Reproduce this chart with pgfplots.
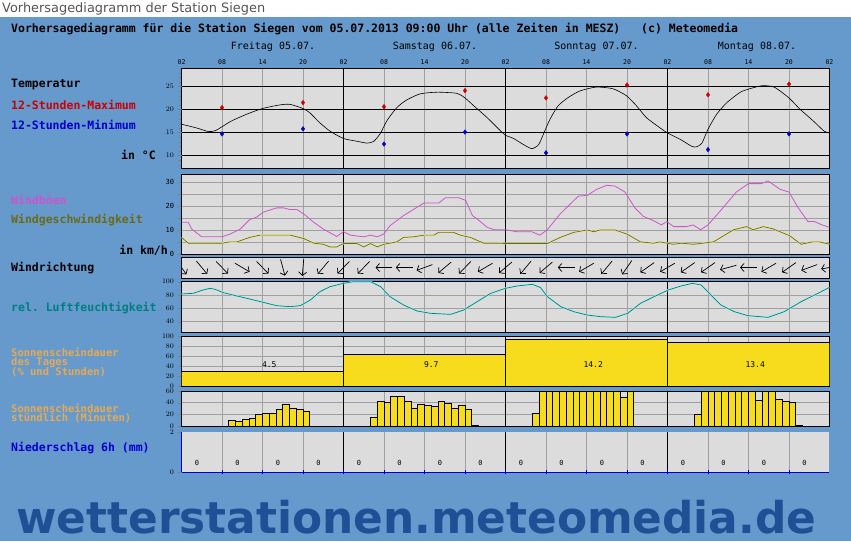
\documentclass[border=0pt]{standalone}
\usepackage{fontspec}
\setmainfont{DejaVu Sans}
\setmonofont{DejaVu Sans Mono}
\usepackage{pgfplots}
\usepackage{pgfplotstable}
\pgfplotsset{compat=1.18}
\usetikzlibrary{arrows.meta}
\definecolor{bgblue}{HTML}{6699CC}
\definecolor{panelgray}{HTML}{DCDCDC}
\definecolor{gridgray}{HTML}{A0A0A0}
\definecolor{tmax}{HTML}{CC0000}
\definecolor{tmin}{HTML}{0000CC}
\definecolor{gust}{HTML}{CC55CC}
\definecolor{windc}{HTML}{6B6B14}
\definecolor{windhalo}{HTML}{E6E6A0}
\definecolor{humid}{HTML}{007F7F}
\definecolor{humidhalo}{HTML}{B4EBEB}
\definecolor{sunlbl}{HTML}{E6AA55}
\definecolor{sunbar}{HTML}{F7DC1E}
\definecolor{wmark}{HTML}{1F5096}
\definecolor{titlegray}{HTML}{555555}

\newcommand{\lbl}{\ttfamily\bfseries\fontsize{11.5}{12}\selectfont}
\newcommand{\slbl}{\ttfamily\bfseries\fontsize{10.5}{11}\selectfont}
\newcommand{\tck}{\ttfamily\fontsize{7}{7}\selectfont}
\newcommand{\hrs}{\ttfamily\fontsize{6.5}{6.5}\selectfont}
\newcommand{\val}{\ttfamily\fontsize{8}{8}\selectfont}

\pgfplotstableread{
h T
0 16.8
2.2 16.0
4 15.2
5 15.4
6 16.25
7.4 17.5
9.7 19.0
12 20.2
14.6 21.0
16.1 21.1
18 20.2
19 19.3
20.5 17.1
22 15.3
24 13.7
26 13.1
27.5 12.7
28.5 13.1
29.5 14.9
30.4 17.5
31.9 20.4
33.4 22.1
35.4 23.4
37.9 23.75
40.8 23.5
42 22.5
43.3 20.8
45.3 18.2
47.3 15.3
48 14.4
49.2 13.7
50.7 12.35
51.9 11.5
52.9 12.35
53.6 14.6
54.6 17.9
55.8 20.8
57.3 22.6
59 24.0
61.4 24.85
63.9 24.5
65.9 23.0
67.4 20.8
68.9 18.2
70.9 16.0
72 14.9
73.9 13.5
75.6 12.0
76.3 11.9
77.1 12.7
78 15.7
79.3 19.0
80.8 21.5
82.8 23.75
84.2 24.5
86 25.15
87.8 24.85
90 22.5
91.6 20.1
93.6 17.5
95.2 15.3
96 14.9
}\temptab

\pgfplotstableread{
h W
0 13.2
1 13.2
1.5 10.4
3 7.15
6 7.15
7.2 8.3
8.7 10.4
10.1 14.3
11.1 15.3
12.1 17.4
14.1 19.2
15.1 19.2
16.1 18.5
17.1 18.5
18.1 16.7
19.6 13.2
21 10.4
23 7.3
24 9.25
25 7.85
27 7.15
28 7.85
29 7.15
29.95 8.3
30.9 11.8
32.9 16.0
35.9 21.2
38.1 21.2
39.1 23.4
41.1 23.4
42.1 22.3
43.1 16.0
43.8 14.6
45.3 11.1
46.3 10.1
48 10.1
49.7 9.25
51.9 9.25
53.1 7.85
54.2 10.1
56.1 16.7
58.8 24.1
60.1 24.4
61.5 26.9
63 28.6
64.2 28.3
65.7 25.8
67.2 19.1
68.4 15.7
69.9 13.9
71.1 12.1
71.9 13.5
72.9 11.4
74.8 11.4
75.8 12.1
76.9 10.1
78 12.1
80 18.5
82.2 25.8
84 29.3
85.9 29.3
86.9 30.4
88.7 26.9
90 25.8
91.3 19.5
92.8 13.5
93.8 13.5
94.8 12.2
96 11.1
}\gusttab

\pgfplotstableread{
h W
0 6.9
1 4.5
6 4.5
7.2 5.05
8.2 5.05
10.1 6.9
11.6 7.85
16.1 7.85
18.1 6.45
19.6 4.5
21 4.05
22 2.95
23 2.95
24 4.35
26 4.35
27 2.95
28 4.35
29 2.95
30 4.05
31.9 5.05
32.9 6.9
34.4 7.15
35.9 7.85
37.4 7.85
38.1 9.0
40.3 9.0
41.3 7.85
42.8 6.9
44.8 4.5
48 4.4
54.2 4.35
56.1 6.9
58.1 9.0
60.1 10.0
61.1 9.25
62 10.0
64.2 10.0
66 8.3
68 5.05
69.9 4.5
70.9 5.05
71.9 4.5
72.9 4.05
74.1 4.5
75.8 4.05
76.8 4.35
78.8 5.05
81.8 10.1
83.7 11.4
84.7 10.1
86.2 11.4
87.7 10.4
90.1 7.6
91.8 4.05
93.5 5.05
94.5 5.05
96 4.05
}\windtab

\pgfplotstableread{
h a
0 -55
3 -50
6 -45
9 -30
12 -45
15 -75
18 -95
21 -130
24 -135
27 -135
30 180
33 180
36 -160
39 -140
42 -135
45 -150
48 -140
51 -130
54 -140
57 180
60 -150
63 -130
66 -125
69 -145
72 -150
75 -145
78 -145
81 -165
84 180
87 -150
90 -145
93 -160
96 -170
}\dirtab

\pgfplotstableread{
h H
0 81.5
1.7 82.5
3.2 87.5
4.2 90
5 88.5
6.2 83.5
8.2 78.5
10.1 74
12.1 69
14.1 64
16.1 62.5
17.6 64
19.1 72.5
20.5 85
22 92.5
24 97.5
25.5 100
28 100
29.5 92.5
30.9 77.5
32.9 65
34.9 56
36.9 52.5
39.9 51
41.8 57.5
43.8 70
45.8 82.5
48 90
49.7 93.5
52 96
53.2 91
54.2 77.5
56.2 62.5
58.1 55
60.1 50
62.1 47.5
64.3 46.5
66.1 52.5
68 67.5
70 77.5
72.1 87.5
74 93.5
75.7 97.5
77 95
78.2 82.5
79.9 65
81.9 55
83.9 49
86.9 46.5
89.3 55
91.8 70
94.3 82.5
96 91.5
}\humtab

\pgfplotsset{
  panel/.style 2 args={
    at={(181.5pt,#1pt)}, anchor=south west, scale only axis,
    width=648pt, height=#2pt,
    xmin=0, xmax=96,
    axis background/.style={fill=panelgray},
    axis line style={black, line width=0.8pt},
    xtick={6,12,18,30,36,42,54,60,66,78,84,90},
    xticklabels={},
    every x tick/.style={draw=none},
    xmajorgrids,
    major grid style={gridgray, line width=0.7pt},
    extra x ticks={24,48,72},
    extra x tick labels={},
    extra x tick style={major grid style={black, line width=0.8pt}},
    ytick align=outside, ytick pos=left,
    major tick length=4pt, minor tick length=3pt,
    yticklabel style={font=\tck},
    xticklabel style={font=\hrs},
  },
}

\begin{document}
\begin{tikzpicture}[x=1pt,y=1pt]
\fill[bgblue] (0,0) rectangle (851,541);
\fill[white] (0,523.7) rectangle (851,541);
\node[anchor=base west, inner sep=0, text=titlegray] at (2,528.3) {\resizebox{263pt}{!}{Vorhersagediagramm der Station Siegen}};
\node[anchor=west, inner sep=0] at (11,511.5) {\lbl Vorhersagediagramm für die Station Siegen vom 05.07.2013 09:00 Uhr (alle Zeiten in MESZ)\ \ \ (c) Meteomedia};

\foreach \xx/\tt in {273/Freitag 05.07., 435/Samstag 06.07., 596.5/Sonntag 07.07., 757/Montag 08.07.}
  \node[inner sep=0] at (\xx,494.5) {\ttfamily\fontsize{10}{10}\selectfont \tt};

% left labels
\node[anchor=west, inner sep=0] at (11,456) {\lbl Temperatur};
\node[anchor=west, inner sep=0, text=tmax] at (11,436) {\lbl 12-Stunden-Maximum};
\node[anchor=west, inner sep=0, text=tmin] at (11,416) {\lbl 12-Stunden-Minimum};
\node[anchor=east, inner sep=0] at (156,386) {\lbl in °C};
\node[anchor=west, inner sep=0, text=gust] at (11,341) {\lbl Windböen};
\node[anchor=west, inner sep=0, text=windc] at (11,321) {\lbl Windgeschwindigkeit};
\node[anchor=east, inner sep=0] at (168,291) {\lbl in km/h};
\node[anchor=west, inner sep=0] at (11,273) {\lbl Windrichtung};
\node[anchor=west, inner sep=0, text=humid] at (11,233) {\lbl rel. Luftfeuchtigkeit};
\node[anchor=west, inner sep=0, text=sunlbl] at (11,188.5) {\slbl Sonnenscheindauer};
\node[anchor=west, inner sep=0, text=sunlbl] at (11,178.5) {\slbl des Tages};
\node[anchor=west, inner sep=0, text=sunlbl] at (11,168.5) {\slbl (\% und Stunden)};
\node[anchor=west, inner sep=0, text=sunlbl] at (11,133) {\slbl Sonnenscheindauer};
\node[anchor=west, inner sep=0, text=sunlbl] at (11,123) {\slbl stündlich (Minuten)};
\node[anchor=west, inner sep=0, text=tmin] at (11,93) {\lbl Niederschlag 6h (mm)};

% temperature
\begin{axis}[panel={373}{100}, ymin=7.3, ymax=29,
  ytick={10,15,20,25},
  minor ytick={8,9,11,12,13,14,16,17,18,19,21,22,23,24,26,27,28},
  extra y ticks={10,15,20,25}, extra y tick labels={},
  extra y tick style={grid=major, major grid style={black, line width=0.7pt}},
  xticklabel pos=upper,
  xticklabels={08,14,20,08,14,20,08,14,20,08,14,20},
  extra x ticks={0,24,48,72,96},
  extra x tick labels={02,02,02,02,02},
]
\addplot[black, line width=0.6pt, smooth, tension=0.4] table[x=h,y=T] {\temptab};
\addplot[only marks, mark=diamond*, mark size=2.3pt, color=tmax] coordinates {(6,20.4) (18,21.5) (30,20.6) (42,24.1) (54,22.5) (66,25.3) (78,23.2) (90,25.5)};
\addplot[only marks, mark=diamond*, mark size=2.3pt, color=tmin] coordinates {(6,14.7) (18,15.8) (30,12.5) (42,15.1) (54,10.6) (66,14.7) (78,11.3) (90,14.7)};
\end{axis}

% wind
\begin{axis}[panel={287}{80}, ymin=0, ymax=33.3,
  ytick={0,5,...,30}, yticklabels={0,,10,,20,,30}, ymajorgrids]
\addplot[windhalo, line width=1.8pt] table[x=h,y=W] {\windtab};
\addplot[windc, line width=0.7pt] table[x=h,y=W] {\windtab};
\addplot[gust, line width=0.8pt] table[x=h,y=W] {\gusttab};
\end{axis}

% wind direction
\begin{axis}[panel={263}{21}, ymin=0, ymax=21, ytick=\empty]
\addplot[black, line width=0.7pt, -{Straight Barb[length=3.5pt,width=8pt]},
  quiver={u={2.5*cos(\thisrow{a})}, v={17*sin(\thisrow{a})}}]
  table[x expr={\thisrow{h}-1.25*cos(\thisrow{a})}, y expr={10.5-8.5*sin(\thisrow{a})}] {\dirtab};
\end{axis}

% humidity
\begin{axis}[panel={209}{51}, ymin=24.5, ymax=101, ytick={40,60,80,100}, ymajorgrids]
\addplot[humidhalo, line width=1.8pt] table[x=h,y=H] {\humtab};
\addplot[humid, line width=0.7pt] table[x=h,y=H] {\humtab};
\end{axis}

% daily sunshine
\begin{axis}[panel={155}{50}, ymin=0, ymax=100, ytick={0,20,...,100}, ymajorgrids]
\addplot[ybar interval, fill=sunbar, draw=black, line width=0.7pt] coordinates {(0,28.7) (24,63.3) (48,93.3) (72,86.7) (96,86.7)};
\addplot[draw=none, mark=none, nodes near coords, point meta=explicit symbolic,
  nodes near coords style={anchor=center, font=\val, text=black}]
  coordinates {(13,42) [4.5] (37,42) [9.7] (61,42) [14.2] (85,42) [13.4]};
\end{axis}

% hourly sunshine
\begin{axis}[panel={115}{35}, ymin=0, ymax=60, ytick={0,20,40,60}, ymajorgrids]
\addplot[ybar, bar width=1, fill=sunbar, draw=black, line width=0.6pt] coordinates {
(7.5,9.4) (8.5,7.8) (9.5,11) (10.5,12.8) (11.5,19.4) (12.5,21.7) (13.5,21.7) (14.5,27.8) (15.5,36.7) (16.5,31) (17.5,29) (18.5,26)
(28.5,14.4) (29.5,42.8) (30.5,41.1) (31.5,51.1) (32.5,51.1) (33.5,42.8) (34.5,31) (35.5,37.8) (36.5,35) (37.5,33.3) (38.5,42.8) (39.5,39.4) (40.5,31) (41.5,36.1) (42.5,29.4) (43.5,1.5)
(52.5,21.1) (53.5,60) (54.5,60) (55.5,60) (56.5,60) (57.5,60) (58.5,60) (59.5,60) (60.5,60) (61.5,60) (62.5,60) (63.5,60) (64.5,60) (65.5,50) (66.5,60)
(76.5,19.4) (77.5,60) (78.5,60) (79.5,60) (80.5,60) (81.5,60) (82.5,60) (83.5,60) (84.5,60) (85.5,44.4) (86.5,60) (87.5,60) (88.5,46) (89.5,41.7) (90.5,40.6) (91.5,1.5)
};
\end{axis}

% precipitation
\begin{axis}[panel={69}{40}, ymin=0, ymax=2, ytick={0,2},
  axis x line*=bottom, axis y line*=left,
  axis line style={tmin, line width=0.8pt},
  every x tick/.style={tmin, line width=0.8pt},
  xtick align=center]
\addplot[draw=none, mark=none, nodes near coords, point meta=explicit symbolic,
  nodes near coords style={anchor=center, font=\tck, text=black}]
  coordinates {(2.3,0.45)[0] (8.3,0.45)[0] (14.3,0.45)[0] (20.3,0.45)[0] (26.3,0.45)[0] (32.3,0.45)[0] (38.3,0.45)[0] (44.3,0.45)[0] (50.3,0.45)[0] (56.3,0.45)[0] (62.3,0.45)[0] (68.3,0.45)[0] (74.3,0.45)[0] (80.3,0.45)[0] (86.3,0.45)[0] (92.3,0.45)[0]};
\end{axis}

\node[anchor=base west, inner sep=0, text=wmark] at (16,8) {\resizebox{800pt}{!}{\bfseries wetterstationen.meteomedia.de}};

\pgfresetboundingbox
\path (0,0) rectangle (851,541);
\end{tikzpicture}
\end{document}
